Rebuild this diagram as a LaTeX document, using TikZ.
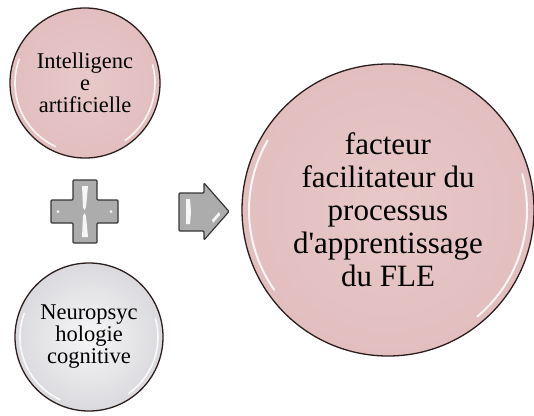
\documentclass[tikz,border=0pt]{standalone}
\usepackage{fontspec}
\setmainfont{Liberation Serif}
\usetikzlibrary{calc}
\definecolor{pinkfill}{RGB}{232,200,200}
\definecolor{pinkdark}{RGB}{226,190,191}
\definecolor{greyfill}{RGB}{232,232,235}
\definecolor{greydark}{RGB}{218,218,222}
\definecolor{ballline}{RGB}{45,30,30}
\definecolor{iconfill}{RGB}{172,172,172}
\definecolor{iconline}{RGB}{55,55,55}
\begin{document}
\begin{tikzpicture}[x=1pt,y=-1pt]
\tikzset{
  ball/.style={circle, draw=ballline, line width=1.3pt, inner sep=0pt, align=center, text=black},
  pinkball/.style={ball, inner color=pinkfill, outer color=pinkdark},
  greyball/.style={ball, inner color=greyfill!40!white, outer color=greydark},
  smalltext/.style={font=\fontsize{22.5}{22}\selectfont},
  bigtext/.style={font=\fontsize{31}{33}\selectfont},
  gloss/.style={white, line width=1.6pt, line cap=round, opacity=0.85},
  icon/.style={draw=iconline, line width=1.2pt, fill=iconfill, rounded corners=1pt},
  shine/.style={fill=white, draw=none, opacity=0.9}
}
\useasboundingbox (0,0) rectangle (534,415);
\fill[white] (0,0) rectangle (534,415);

% left top ball
\node[pinkball, smalltext, minimum size=150pt] (ai) at (85,83) {Intelligenc\\e\\artificielle};
% left bottom ball
\node[greyball, smalltext, minimum size=148pt] (np) at (89,337) {Neuropsyc\\hologie\\cognitive};
% big ball
\node[pinkball, bigtext, minimum size=292pt] (fle) at (388,210) {facteur\\facilitateur du\\processus\\d\textquotesingle apprentissage\\du FLE};

% gloss highlights
\draw[gloss] (ai.center) ++(160:70pt) arc[start angle=160, end angle=245, radius=70pt];
\draw[gloss] (ai.center) ++(-55:70pt) arc[start angle=-55, end angle=15, radius=70pt];
\draw[gloss] (np.center) ++(160:69pt) arc[start angle=160, end angle=245, radius=69pt];
\draw[gloss] (np.center) ++(-55:69pt) arc[start angle=-55, end angle=15, radius=69pt];
\draw[gloss, line width=2pt] (fle.center) ++(150:139pt) arc[start angle=150, end angle=215, radius=139pt];
\draw[gloss, line width=2pt] (fle.center) ++(-50:139pt) arc[start angle=-50, end angle=15, radius=139pt];

% plus sign
\coordinate (plus) at (84.5,211.5);
\draw[icon] (73,180) -- (97,180) -- (97,200) -- (118,200) -- (118,223) -- (97,223)
  -- (97,243) -- (73,243) -- (73,223) -- (51,223) -- (51,200) -- (73,200) -- cycle;
\fill[shine] (82,186) -- (88,186) -- (86,207) -- (84.5,210) -- (83,207) -- cycle;
\fill[shine] (82,237) -- (88,237) -- (86,216) -- (84.5,213) -- (83,216) -- cycle;
\fill[shine] (58,211.5) circle (1.5pt);
\fill[shine] (111,211.5) circle (1.5pt);

% arrow
\coordinate (arr) at (204,211.5);
\draw[icon] (179,193) -- (204,193) -- (204,183) -- (229,211.5) -- (204,240)
  -- (204,231) -- (179,231) -- cycle;
\fill[shine] (186,199) -- (190,199) -- (191,212) -- (190,224) -- (186,224) -- cycle;
\fill[shine] (212,220) -- (219,212) -- (220,215) -- (213,223) -- cycle;
\end{tikzpicture}
\end{document}
